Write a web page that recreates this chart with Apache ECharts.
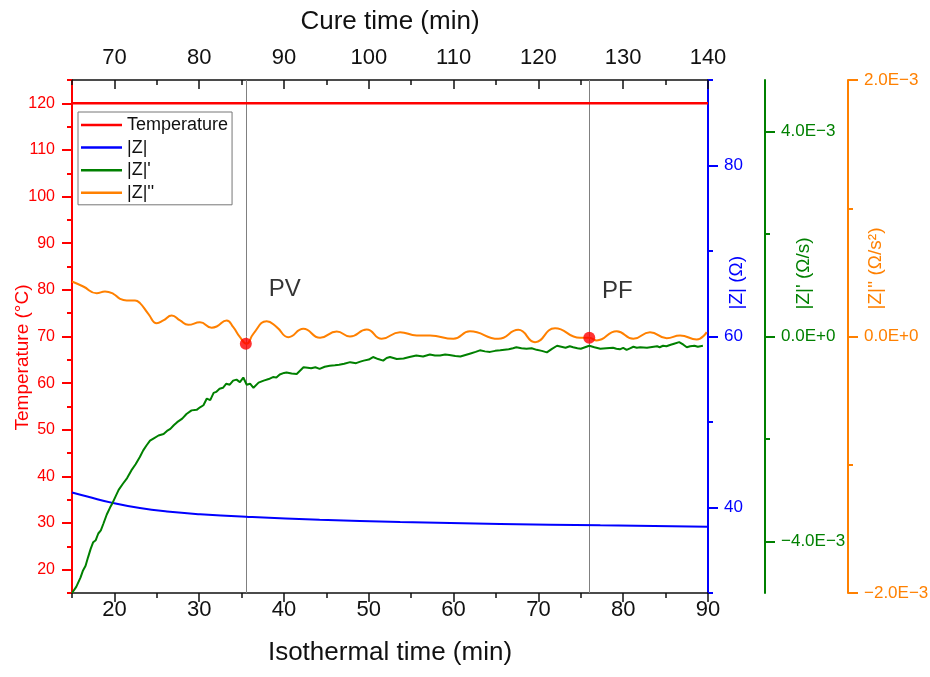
<!DOCTYPE html>
<html><head><meta charset="utf-8">
<script src="https://cdn.jsdelivr.net/npm/echarts@6/dist/echarts.min.js"></script>
<style>html,body{margin:0;padding:0;background:#fff}#c{width:930px;height:677px}</style>
</head><body><div id="c"></div>
<script>
// ---- tick values ----
const isoTicksMajor = [20,30,40,50,60,70,80,90];
const isoTicksMinor = [15,25,35,45,55,65,75,85];
const cureTicksMajor = [70,80,90,100,110,120,130,140];
const cureTicksMinor = [65,75,85,95,105,115,125,135];
const tempTicksMajor = [20,30,40,50,60,70,80,90,100,110,120];
const tempTicksMinor = [15,25,35,45,55,65,75,85,95,105,115,125];
const zTicksMajor = [40,60,80];
const zTicksMinor = [30,50,70,90];
const zpTicksMajor = [-0.004,0,0.004];
const zpTicksMinor = [-0.002,0.002];
const zppTicksMajor = [-0.002,0,0.002];
const zppTicksMinor = [-0.001,0.001];

// ---- series data ----
const tempTime = [15,90];
const tempVal  = [120,120];

const zTime = [15,16.8,19.9,23.0,26.2,30.1,35.5,44.2,53.7,65.5,77.3,90];
const zVal  = [41.75,41.28,40.51,39.93,39.53,39.21,38.91,38.56,38.30,38.08,37.91,37.76];

const zpTime = [15.0,15.5,16.0,16.3,16.6,16.9,17.2,17.5,17.8,18.1,18.4,18.7,19.1,19.5,19.8,20.1,20.5,21.0,21.5,22.0,22.5,23.0,23.4,23.8,24.2,24.6,25.2,25.8,26.2,26.6,27.0,27.4,28.0,28.5,29.1,29.7,30.1,30.5,30.9,31.3,31.7,32.0,32.4,32.8,33.2,33.6,34.0,34.4,34.8,35.2,35.6,36.0,36.4,37.0,37.6,38.2,38.7,39.1,39.5,40.0,40.3,40.9,41.5,42.3,42.8,43.2,43.7,44.2,44.8,45.4,46.0,46.5,47.1,47.8,48.5,49.0,49.4,50.0,50.5,51.1,51.7,52.1,52.5,53.3,54.1,54.8,55.6,56.4,57.2,57.8,58.4,59.0,59.5,60.2,60.8,61.4,62.0,62.6,63.1,63.7,64.3,64.9,65.5,66.0,66.5,67.0,67.4,68.0,68.6,69.2,69.8,70.4,71.0,71.6,72.2,72.7,73.2,73.7,74.1,74.6,75.0,75.5,76.0,76.6,77.3,78.0,78.8,79.2,79.6,80.0,80.4,80.8,81.2,81.6,82.0,82.8,83.6,84.0,84.3,84.7,85.1,85.6,86.0,86.6,87.1,87.5,87.9,88.4,88.8,89.4,89.9];
const zpVal  = [-5.00e-3,-4.88e-3,-4.70e-3,-4.56e-3,-4.47e-3,-4.30e-3,-4.14e-3,-4.01e-3,-3.97e-3,-3.84e-3,-3.78e-3,-3.65e-3,-3.47e-3,-3.33e-3,-3.24e-3,-3.13e-3,-2.99e-3,-2.87e-3,-2.76e-3,-2.61e-3,-2.49e-3,-2.35e-3,-2.22e-3,-2.12e-3,-2.03e-3,-1.99e-3,-1.93e-3,-1.90e-3,-1.84e-3,-1.80e-3,-1.73e-3,-1.67e-3,-1.60e-3,-1.51e-3,-1.44e-3,-1.43e-3,-1.38e-3,-1.34e-3,-1.21e-3,-1.24e-3,-1.10e-3,-1.08e-3,-1.02e-3,-1.00e-3,-0.92e-3,-0.94e-3,-0.86e-3,-0.84e-3,-0.89e-3,-0.80e-3,-0.94e-3,-0.92e-3,-1.00e-3,-0.90e-3,-0.86e-3,-0.83e-3,-0.79e-3,-0.80e-3,-0.74e-3,-0.71e-3,-0.70e-3,-0.72e-3,-0.73e-3,-0.60e-3,-0.61e-3,-0.62e-3,-0.60e-3,-0.63e-3,-0.59e-3,-0.57e-3,-0.56e-3,-0.55e-3,-0.53e-3,-0.50e-3,-0.52e-3,-0.49e-3,-0.47e-3,-0.45e-3,-0.40e-3,-0.44e-3,-0.47e-3,-0.42e-3,-0.40e-3,-0.44e-3,-0.43e-3,-0.40e-3,-0.37e-3,-0.39e-3,-0.35e-3,-0.37e-3,-0.37e-3,-0.35e-3,-0.36e-3,-0.38e-3,-0.39e-3,-0.36e-3,-0.33e-3,-0.30e-3,-0.27e-3,-0.29e-3,-0.30e-3,-0.28e-3,-0.27e-3,-0.26e-3,-0.25e-3,-0.23e-3,-0.21e-3,-0.23e-3,-0.24e-3,-0.23e-3,-0.26e-3,-0.28e-3,-0.31e-3,-0.24e-3,-0.18e-3,-0.20e-3,-0.22e-3,-0.19e-3,-0.21e-3,-0.23e-3,-0.24e-3,-0.21e-3,-0.18e-3,-0.21e-3,-0.24e-3,-0.23e-3,-0.22e-3,-0.24e-3,-0.25e-3,-0.22e-3,-0.26e-3,-0.23e-3,-0.20e-3,-0.22e-3,-0.21e-3,-0.22e-3,-0.20e-3,-0.19e-3,-0.21e-3,-0.18e-3,-0.19e-3,-0.16e-3,-0.14e-3,-0.11e-3,-0.16e-3,-0.21e-3,-0.19e-3,-0.18e-3,-0.20e-3,-0.18e-3];

const zppTime = [15.0,16.33,17.91,18.89,19.87,20.66,21.45,22.43,23.02,24.0,24.99,25.77,26.76,27.74,28.71,30.09,31.47,32.06,33.24,34.02,34.81,35.58,36.38,37.96,39.14,40.51,42.28,44.25,46.22,47.78,49.75,51.52,53.68,55.65,57.22,59.97,61.93,65.27,67.63,69.60,71.96,74.91,76.0,76.87,79.23,81.19,83.16,85.13,86.70,88.67,89.85];
const zppVal  = [4.29e-4,3.90e-4,3.38e-4,3.51e-4,3.33e-4,2.94e-4,2.81e-4,2.81e-4,2.60e-4,1.77e-4,1.04e-4,1.25e-4,1.64e-4,1.25e-4,0.91e-4,1.11e-4,0.68e-4,0.78e-4,1.25e-4,0.73e-4,-0.05e-4,-0.57e-4,0.21e-4,1.19e-4,0.73e-4,-0.05e-4,0.60e-4,-0.10e-4,0.39e-4,0.00,0.55e-4,-0.18e-4,0.34e-4,0.08e-4,0.08e-4,-0.18e-4,0.41e-4,-0.18e-4,0.52e-4,-0.44e-4,0.65e-4,-0.10e-4,-0.10e-4,-0.31e-4,0.41e-4,-0.18e-4,0.34e-4,-0.13e-4,0.08e-4,-0.23e-4,0.34e-4];

const eventName = ['PV','PF'];
const eventTime = [35.5,76];
const eventVal  = [-0.57e-4,-0.10e-4];

// ---- styles ----
const FONT = '"Liberation Sans", Arial, sans-serif';
const RED='#FF0000', BLUE='#0000FF', GREEN='#008000', ORANGE='#FF8000', INK='#111111', GRAY='#808080';
const pairs = (xs, ys) => xs.map((x,i)=>[x, ys[i]]);
const eFmt = v => { if (Math.abs(v) < 1e-12) return '0.0E+0'; const m = v*1000; return (m<0?'\u2212':'') + Math.abs(m).toFixed(1) + 'E\u22123'; };

function xAx(pos, min, max, major, minor, name, inside) {
  return [
    { type:'value', position:pos, min:min, max:max,
      axisLine:{onZero:false, lineStyle:{color:INK, width:1.5}},
      axisTick:{customValues:major, length:9, inside:inside, lineStyle:{color:INK, width:1.5}},
      axisLabel:{customValues:major, fontSize:22, color:INK, fontFamily:FONT, margin: pos==='bottom'?6:11},
      splitLine:{show:false},
      name:name, nameLocation:'middle', nameGap: pos==='bottom'?47:45, nameMoveOverlap:false,
      nameTextStyle:{fontSize:26, color:INK, fontFamily:FONT} },
    { type:'value', position:pos, min:min, max:max,
      axisLine:{show:false, onZero:false},
      axisTick:{customValues:minor, length:5, inside:inside, lineStyle:{color:INK, width:1.5}},
      axisLabel:{show:false}, splitLine:{show:false} }
  ];
}
function yAx(pos, offset, min, max, major, minor, color, name, nameGap, nameStyle, fmt, fs) {
  return [
    { type:'value', position:pos, offset:offset, min:min, max:max,
      axisLine:{show:true, onZero:false, lineStyle:{color:color, width:2}},
      axisTick:{customValues:major, length:10, lineStyle:{color:color, width:2}},
      axisLabel:{customValues:major, fontSize:fs, color:color, fontFamily:FONT, margin:pos==='left'?17:16, formatter:fmt},
      splitLine:{show:false},
      name:name, nameLocation:'middle', nameGap:nameGap, nameMoveOverlap:false,
      nameTextStyle:Object.assign({fontSize:19, color:color, fontFamily:FONT}, nameStyle) },
    { type:'value', position:pos, offset:offset, min:min, max:max,
      axisLine:{show:false, onZero:false},
      axisTick:{customValues:minor, length:5, lineStyle:{color:color, width:2}},
      axisLabel:{show:false}, splitLine:{show:false} }
  ];
}

const xAxes = [].concat(
  xAx('bottom', 15, 90, isoTicksMajor, isoTicksMinor, 'Isothermal time (min)', false),
  xAx('top', 65, 140, cureTicksMajor, cureTicksMinor, 'Cure time (min)', true)
);
const yAxes = [].concat(
  yAx('left', 0, 15, 125, tempTicksMajor, tempTicksMinor, RED, 'Temperature (\u00B0C)', 40, {padding:[0,42,0,0]}, v=>String(v), 16),
  yAx('right', 0, 30, 90, zTicksMajor, zTicksMinor, BLUE, '|Z| (\u03A9)', 19, {align:'left', padding:[0,0,0,27]}, v=>String(v), 17),
  yAx('right', 57, -0.005, 0.005, zpTicksMajor, zpTicksMinor, GREEN, "|Z|' (\u03A9/s)", 29, {align:'left', padding:[0,0,0,27]}, eFmt, 17),
  yAx('right', 140, -0.002, 0.002, zppTicksMajor, zppTicksMinor, ORANGE, "|Z|'' (\u03A9/s\u00B2)", 18, {align:'left', padding:[0,0,0,27]}, eFmt, 17)
);

const labelOffsets = [[39,-54],[28,-46]];

const option = {
  animation:false,
  backgroundColor:'#fff',
  textStyle:{fontFamily:FONT},
  grid:{left:72, right:222, top:80, bottom:84, containLabel:false, outerBoundsMode:'none'},
  legend:{
    orient:'vertical', left:78, top:112,
    data:['Temperature','|Z|',"|Z|'","|Z|''"],
    icon:'rect', itemWidth:41, itemHeight:2.5, itemGap:4.6,
    padding:[4,4,3,3],
    borderColor:'#777', borderWidth:1, borderRadius:0,
    textStyle:{fontSize:18, lineHeight:17, color:INK, fontFamily:FONT}
  },
  xAxis: xAxes,
  yAxis: yAxes,
  series:[
    {name:'Temperature', type:'line', xAxisIndex:0, yAxisIndex:0, data:pairs(tempTime,tempVal), symbol:'none',
     lineStyle:{color:RED, width:2.5}, itemStyle:{color:RED}, z:3},
    {name:'|Z|', type:'line', xAxisIndex:0, yAxisIndex:2, data:pairs(zTime,zVal), symbol:'none', smooth:true,
     lineStyle:{color:BLUE, width:2}, itemStyle:{color:BLUE}, z:3},
    {name:"|Z|'", type:'line', xAxisIndex:0, yAxisIndex:4, data:pairs(zpTime,zpVal), symbol:'none',
     lineStyle:{color:GREEN, width:2}, itemStyle:{color:GREEN}, z:3},
    {name:"|Z|''", type:'line', xAxisIndex:0, yAxisIndex:6, data:pairs(zppTime,zppVal), symbol:'none', smooth:0.5,
     lineStyle:{color:ORANGE, width:2}, itemStyle:{color:ORANGE}, z:3},
    {name:'events', type:'scatter', xAxisIndex:0, yAxisIndex:6, symbolSize:12, itemStyle:{color:RED}, z:6,
     data: eventTime.map((t,i)=>({value:[t,eventVal[i]],
       label:{show:true, position:'inside', offset:labelOffsets[i], formatter:eventName[i], fontSize:24,
              color:'#000', textBorderWidth:0, textBorderColor:'transparent', fontFamily:FONT}})),
     markLine:{silent:true, symbol:'none', label:{show:false}, z:2,
       lineStyle:{color:GRAY, width:1, type:'solid'},
       data: eventTime.map(t=>({xAxis:t}))}}
  ]
};
const chart = echarts.init(document.getElementById('c'), null, {renderer:'canvas'});
chart.setOption(option);
</script></body></html>
